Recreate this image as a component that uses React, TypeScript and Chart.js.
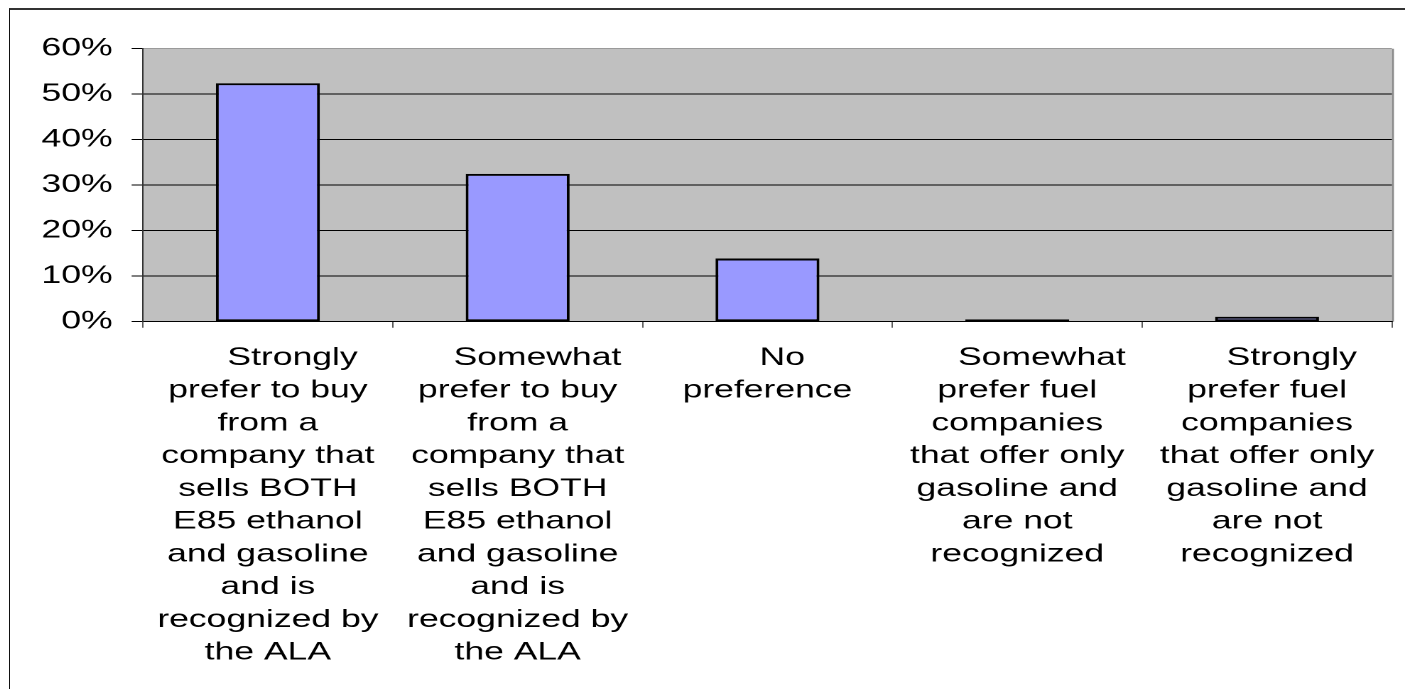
import { useEffect, useRef } from "react";
import { Chart, registerables } from "chart.js";

Chart.register(...registerables);

// Survey answers, one entry per response option (each line of the wrapped label).
const categoryLines: string[][] = [
  ["     Strongly", "prefer to buy", "from a", "company that", "sells BOTH", "E85 ethanol", "and gasoline", "and is", "recognized by", "the ALA"],
  ["    Somewhat", "prefer to buy", "from a", "company that", "sells BOTH", "E85 ethanol", "and gasoline", "and is", "recognized by", "the ALA"],
  ["   No", "preference"],
  ["     Somewhat", "prefer fuel", "companies", "that offer only", "gasoline and", "are not", "recognized"],
  ["     Strongly", "prefer fuel", "companies", "that offer only", "gasoline and", "are not", "recognized"],
];

// Share of respondents (percent).
const shares: number[] = [52.4, 32.5, 13.9, 0.5, 1.1];

// Value axis.
const yMin = 0;
const yMax = 60;
const yStep = 10;

const FONT = "'Liberation Sans', Arial, Helvetica, sans-serif";

// The chart is laid out on a narrower canvas and shown wider, which gives the
// broad lettering of the original spreadsheet export.
const CSS_W = 1395;
const CSS_H = 679;
const STRETCH = 1.42;
const W = Math.round(CSS_W / STRETCH);
const H = CSS_H;

const PLOT_LEFT = 93.6;
const PLOT_TOP = 38.7;
const PLOT_BOTTOM = 311.7;
const PLOT_RIGHT_PAD = 9.2;

const plotBackground = {
  id: "plotBackground",
  beforeDraw(chart: Chart) {
    const { ctx, chartArea } = chart;
    const { left, top, right, bottom } = chartArea;
    ctx.save();
    ctx.fillStyle = "#C0C0C0";
    ctx.fillRect(left, top, right - left, bottom - top);
    ctx.strokeStyle = "#8a8a8a";
    ctx.lineWidth = 1.4;
    ctx.beginPath();
    ctx.moveTo(right + 0.7, top);
    ctx.lineTo(right + 0.7, bottom);
    ctx.stroke();
    ctx.restore();
  },
};

export default function App() {
  const canvasRef = useRef<HTMLCanvasElement | null>(null);

  useEffect(() => {
    const canvas = canvasRef.current;
    if (!canvas) return;
    const chart = new Chart(canvas, {
      type: "bar",
      data: {
        labels: categoryLines,
        datasets: [
          {
            data: shares,
            backgroundColor: "#9999FF",
            borderColor: "#000000",
            borderWidth: 2,
            borderSkipped: false,
            barPercentage: 0.416,
            categoryPercentage: 1,
          },
        ],
      },
      options: {
        animation: false,
        responsive: false,
        devicePixelRatio: 2,
        layout: { padding: { top: PLOT_TOP, right: PLOT_RIGHT_PAD, left: 0, bottom: 0 } },
        plugins: {
          legend: { display: false },
          tooltip: { enabled: false },
        },
        scales: {
          x: {
            offset: true,
            grid: {
              offset: true,
              drawOnChartArea: false,
              drawTicks: true,
              tickLength: 6,
              tickColor: "#333333",
              lineWidth: 0.8,
            },
            border: { display: true, color: "#000000", width: 1 },
            ticks: {
              color: "#000000",
              font: { family: FONT, size: 25, lineHeight: 1.31 },
              padding: 14,
              maxRotation: 0,
              minRotation: 0,
              autoSkip: false,
            },
            afterFit(scale: any) {
              scale.height = H - PLOT_BOTTOM;
            },
          },
          y: {
            min: yMin,
            max: yMax,
            grid: {
              color: (ctx: any) => (ctx.tick && ctx.tick.value === yMax ? "#9a9a9a" : "#000000"),
              lineWidth: 1,
              tickLength: 8,
              tickColor: "#000000",
            },
            border: { display: true, color: "#333333", width: 1 },
            ticks: {
              stepSize: yStep,
              color: "#000000",
              font: { family: FONT, size: 25 },
              padding: 13.4,
              callback: (v: any) => `${v}%`,
            },
            afterFit(scale: any) {
              scale.width = PLOT_LEFT;
            },
          },
        },
      },
      plugins: [plotBackground],
    });
    return () => chart.destroy();
  }, []);

  return (
    <div
      style={{
        position: "fixed",
        left: 9,
        top: 8,
        borderTop: "2px solid #333333",
        borderLeft: "1px solid #111111",
        width: CSS_W + 10,
        height: CSS_H + 10,
        overflow: "hidden",
        background: "#ffffff",
      }}
    >
      <canvas
        ref={canvasRef}
        width={W}
        height={H}
        style={{ width: CSS_W, height: CSS_H, display: "block" }}
      />
    </div>
  );
}
